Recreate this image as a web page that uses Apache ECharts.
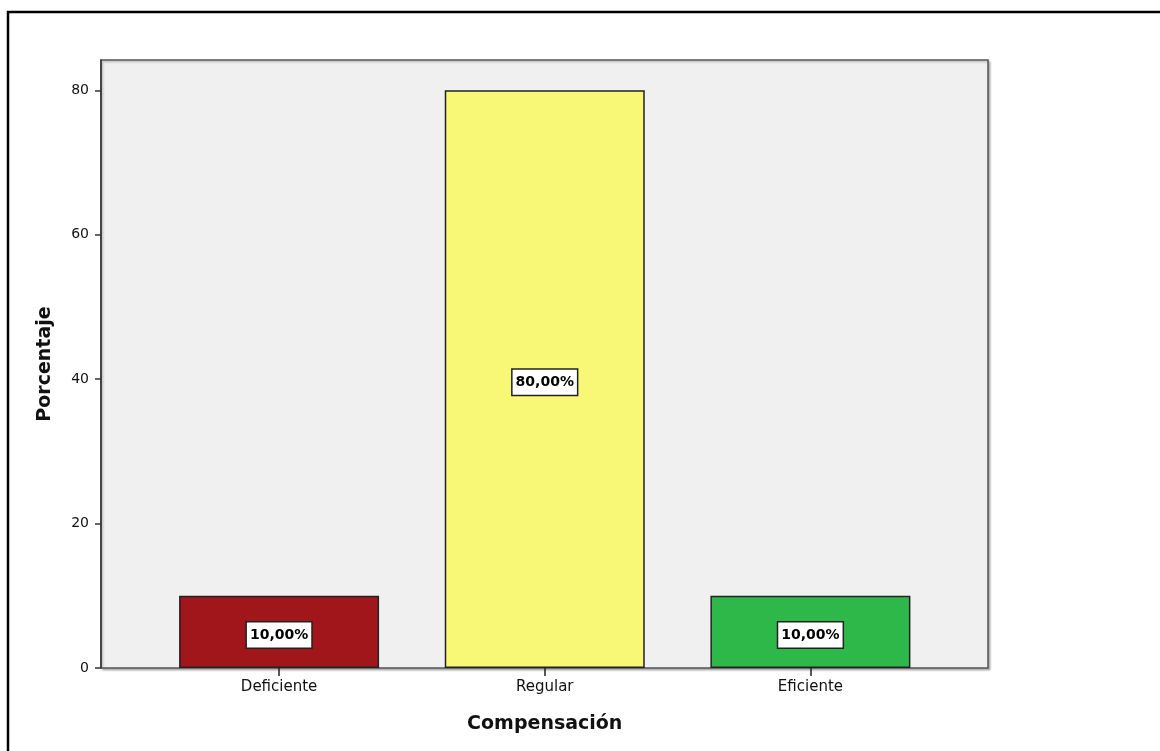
<!DOCTYPE html>
<html>
<head>
<meta charset="utf-8">
<script src="https://cdn.jsdelivr.net/npm/echarts@6/dist/echarts.min.js"></script>
<style>
  html, body { margin: 0; padding: 0; background: #fff; }
  #chart { width: 1160px; height: 751px; }
</style>
</head>
<body>
<div id="chart"></div>
<script>
// Compensación: porcentaje por nivel
const categories = ['Deficiente', 'Regular', 'Eficiente'];
const percentages = [10, 80, 10];
const barColors = ['#a0161a', '#f9f776', '#2fb84a'];
const yTicks = [0, 20, 40, 60, 80];

const chart = echarts.init(document.getElementById('chart'));

const fmtPct = v => v.toFixed(2).replace('.', ',') + '%';

chart.setOption({
  animation: false,
  backgroundColor: '#ffffff',
  graphic: [{
    type: 'rect',
    shape: { x: 8, y: 12, width: 1200, height: 800 },
    style: { fill: 'none', stroke: '#000', lineWidth: 2.5 },
    silent: true
  }],
  grid: [
    {
      // plot frame
      left: 101, right: 172, top: 60, bottom: 83,
      show: true,
      backgroundColor: '#f0f0f0',
      borderColor: '#555',
      borderWidth: 1.5,
      shadowColor: 'rgba(0,0,0,0.25)',
      shadowBlur: 2,
      shadowOffsetX: 1.5,
      shadowOffsetY: 1.5
    },
    {
      // bar area
      left: 146.25, right: 216.75, top: 60, bottom: 83
    }
  ],
  xAxis: [
    { gridIndex: 0, type: 'value', show: false, min: 0, max: 1 },
    {
      gridIndex: 1,
      type: 'category',
      data: categories,
      axisLine: { show: false },
      axisTick: { show: true, alignWithLabel: true, length: 8, lineStyle: { color: '#222', width: 1.5 } },
      axisLabel: { margin: 12, color: '#111', fontFamily: 'DejaVu Sans', fontSize: 15 },
      name: 'Compensación',
      nameLocation: 'middle',
      nameGap: 47,
      nameTextStyle: { color: '#111', fontFamily: 'DejaVu Sans', fontWeight: 'bold', fontSize: 19 }
    }
  ],
  yAxis: [
    { gridIndex: 0, type: 'value', show: false, min: 0, max: 1 },
    {
      gridIndex: 1,
      type: 'value',
      offset: 45.25,
      min: 0,
      max: 84.2,
      interval: 20,
      axisLine: { show: true, lineStyle: { color: '#333', width: 1.5 } },
      axisTick: { show: true, length: 6, customValues: yTicks, lineStyle: { color: '#333', width: 1.5 } },
      splitLine: { show: false },
      axisLabel: {
        margin: 12, color: '#111', fontFamily: 'DejaVu Sans', fontSize: 14,
        customValues: yTicks
      },
      name: 'Porcentaje',
      nameLocation: 'middle',
      nameGap: 46,
      nameTextStyle: { color: '#111', fontFamily: 'DejaVu Sans', fontWeight: 'bold', fontSize: 19 }
    }
  ],
  series: [{
    type: 'bar',
    xAxisIndex: 1,
    yAxisIndex: 1,
    barWidth: 200,
    data: percentages.map((v, i) => ({ value: v, itemStyle: { color: barColors[i] } })),
    itemStyle: { borderColor: '#222', borderWidth: 1.5 },
    label: {
      show: true,
      position: 'inside',
      offset: [0, 3],
      formatter: p => fmtPct(p.value),
      fontFamily: 'DejaVu Sans',
      fontWeight: 'bold',
      fontSize: 14,
      color: '#000',
      backgroundColor: '#fff',
      borderColor: '#222',
      borderWidth: 1.5,
      padding: [5, 3, 4, 3],
      lineHeight: 16
    }
  }]
});
</script>
</body>
</html>
